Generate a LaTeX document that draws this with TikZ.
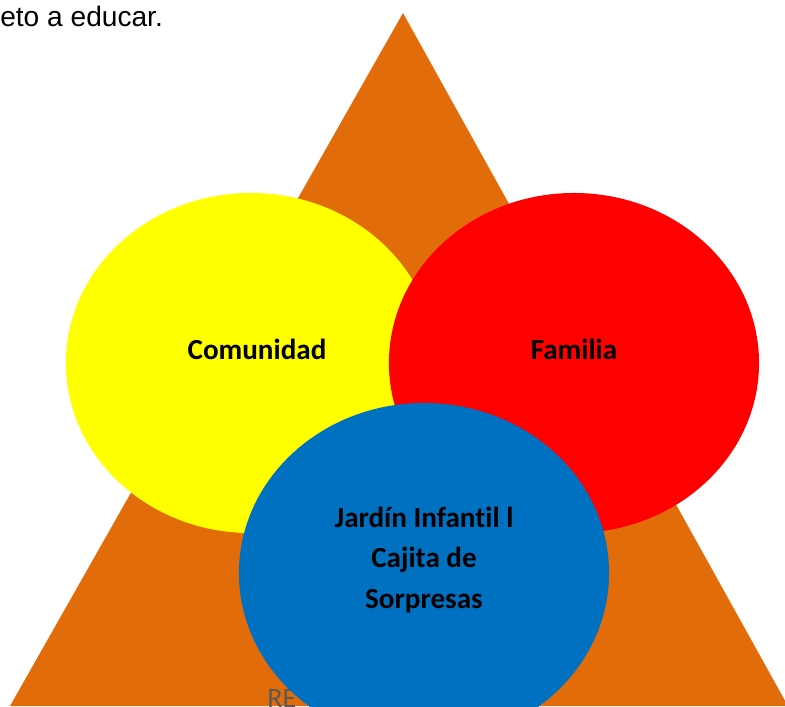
\documentclass[tikz,border=0pt]{standalone}
\usepackage{xcolor}
\usepackage{fontspec}
\setmainfont{Carlito}[Ligatures=NoCommon]
\newfontfamily\arial{Liberation Sans}
\usepackage{tikz}
\usetikzlibrary{shapes.geometric}

\definecolor{naranja}{RGB}{227,108,10}
\definecolor{amarillo}{RGB}{255,255,0}
\definecolor{rojo}{RGB}{255,0,0}
\definecolor{azul}{RGB}{0,112,192}
\definecolor{gris}{RGB}{89,89,89}

\begin{document}
\begin{tikzpicture}[x=0.025cm, y=-0.025cm,
    circulo/.style={ellipse, inner sep=0pt, outer sep=0pt, minimum width=9.25cm, minimum height=8.5cm},
    etiqueta/.style={font=\fontsize{20.7}{28.5}\selectfont\bfseries, align=center, text=black}]
                \clip (0,0) rectangle (785,706);
                \fill[naranja] (403,13) -- (10,706) -- (788,706) -- cycle;
                \node[font=\fontsize{20}{24}\selectfont, text=gris, anchor=base west, inner sep=0pt] (pie) at (267,707) {RE};
                \node[circulo, fill=amarillo] (com) at (251,363) {};
                \node[circulo, fill=rojo] (fam) at (574,363) {};
                \node[circulo, fill=azul] (jar) at (424,573) {};
                \node[etiqueta] (tcom) at ([xshift=6*0.025cm, yshift=14*0.025cm]com.center) {Comunidad};
                \node[etiqueta] (tfam) at ([yshift=14*0.025cm]fam.center) {Familia};
                \node[etiqueta] (tjar) at ([yshift=13*0.025cm]jar.center) {Jardín Infantil l\\Cajita de\\Sorpresas};
                \node[font=\arial\fontsize{20}{24}\selectfont, anchor=base west, inner sep=0pt] (sup) at (0,26) {eto a educar.};
            \end{tikzpicture}
\end{document}
